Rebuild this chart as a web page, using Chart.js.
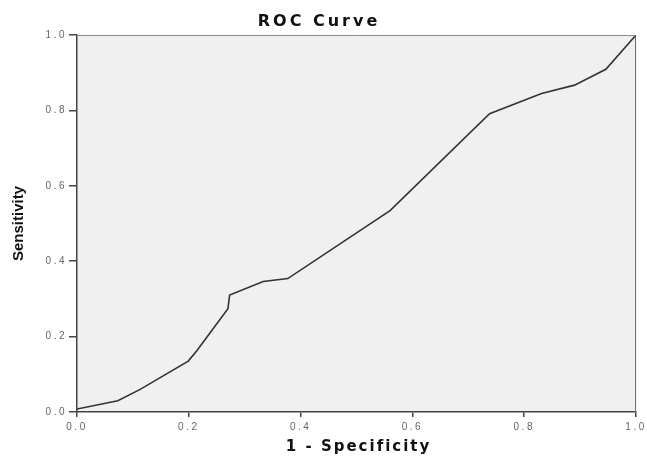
<!DOCTYPE html>
<html>
<head>
<meta charset="utf-8">
<script src="https://cdn.jsdelivr.net/npm/chart.js@4"></script>
<style>
html,body{margin:0;padding:0;background:#fff;}
#wrap{width:647px;height:457px;position:relative;}
</style>
</head>
<body>
<div id="wrap"><canvas id="c" width="647" height="457"></canvas></div>
<script>
const chartTitle = "ROC Curve";
const xTitle = "1 - Specificity";
const yTitle = "Sensitivity";
const tickValues = [0, 0.2, 0.4, 0.6, 0.8, 1.0];
const fpr = [0, 0.073, 0.113, 0.199, 0.214, 0.270, 0.273, 0.333, 0.377, 0.560, 0.738, 0.831, 0.890, 0.946, 1.0];
const tpr = [0.008, 0.030, 0.060, 0.135, 0.162, 0.274, 0.310, 0.346, 0.354, 0.534, 0.791, 0.845, 0.867, 0.909, 1.0];

const points = fpr.map((x, i) => ({x: x, y: tpr[i]}));

const framePlugin = {
  id: 'frame',
  beforeDraw(chart) {
    const {ctx, chartArea: a} = chart;
    ctx.save();
    ctx.fillStyle = '#f0f0f0';
    ctx.fillRect(a.left, a.top, a.right - a.left, a.bottom - a.top);
    ctx.restore();
    ctx.letterSpacing = '2.5px';
  },
  afterDraw(chart) {
    const {ctx, chartArea: a} = chart;
    ctx.save();
    ctx.strokeStyle = '#8a8a8a';
    ctx.lineWidth = 1;
    ctx.beginPath();
    ctx.moveTo(a.left, a.top + 0.5);
    ctx.lineTo(a.right, a.top + 0.5);
    ctx.stroke();
    ctx.strokeStyle = '#666';
    ctx.beginPath();
    ctx.moveTo(a.right - 0.5, a.top);
    ctx.lineTo(a.right - 0.5, a.bottom);
    ctx.stroke();
    // titles
    ctx.fillStyle = '#111';
    ctx.textBaseline = 'middle';
    ctx.textAlign = 'center';
    ctx.letterSpacing = '3px';
    ctx.font = 'bold 16px "DejaVu Sans"';
    ctx.fillText(chartTitle, 319, 22);
    ctx.letterSpacing = '2px';
    ctx.font = 'bold 15px "DejaVu Sans"';
    ctx.fillText(xTitle, (a.left + a.right) / 2 + 2, 447);
    ctx.translate(19, (a.top + a.bottom) / 2);
    ctx.rotate(-Math.PI / 2);
    ctx.letterSpacing = '0px';
    ctx.font = 'bold 15px "Liberation Sans"';
    ctx.fillText(yTitle, 0, 0);
    ctx.restore();
  }
};

new Chart(document.getElementById('c'), {
  type: 'scatter',
  data: {
    datasets: [{
      data: points,
      showLine: true,
      borderColor: '#333',
      borderWidth: 1.6,
      pointRadius: 0,
      tension: 0,
      fill: false
    }]
  },
  options: {
    responsive: false,
    animation: false,
    devicePixelRatio: 1,
    layout: {padding: {top: 35, right: 10, left: 0, bottom: 0}},
    plugins: {legend: {display: false}, tooltip: {enabled: false}, title: {display: false}},
    scales: {
      x: {
        type: 'linear', min: 0, max: 1,
        afterBuildTicks: s => { s.ticks = tickValues.map(v => ({value: v})); },
        afterFit: s => { s.height = 45; },
        ticks: {
          color: '#666', padding: 4,
          font: {family: '"Liberation Sans"', size: 10},
          callback: v => v.toFixed(1)
        },
        grid: {drawOnChartArea: false, drawTicks: true, tickLength: 5, color: '#444', lineWidth: 1.5},
        border: {color: '#444', width: 1.5}
      },
      y: {
        type: 'linear', min: 0, max: 1,
        afterBuildTicks: s => { s.ticks = tickValues.map(v => ({value: v})); },
        afterFit: s => { s.width = 77; },
        ticks: {
          color: '#666', padding: 2,
          font: {family: '"Liberation Sans"', size: 10},
          callback: v => v.toFixed(1)
        },
        grid: {drawOnChartArea: false, drawTicks: true, tickLength: 8, color: '#444', lineWidth: 1.5},
        border: {color: '#444', width: 1.5}
      }
    }
  },
  plugins: [framePlugin]
});
</script>
</body>
</html>
